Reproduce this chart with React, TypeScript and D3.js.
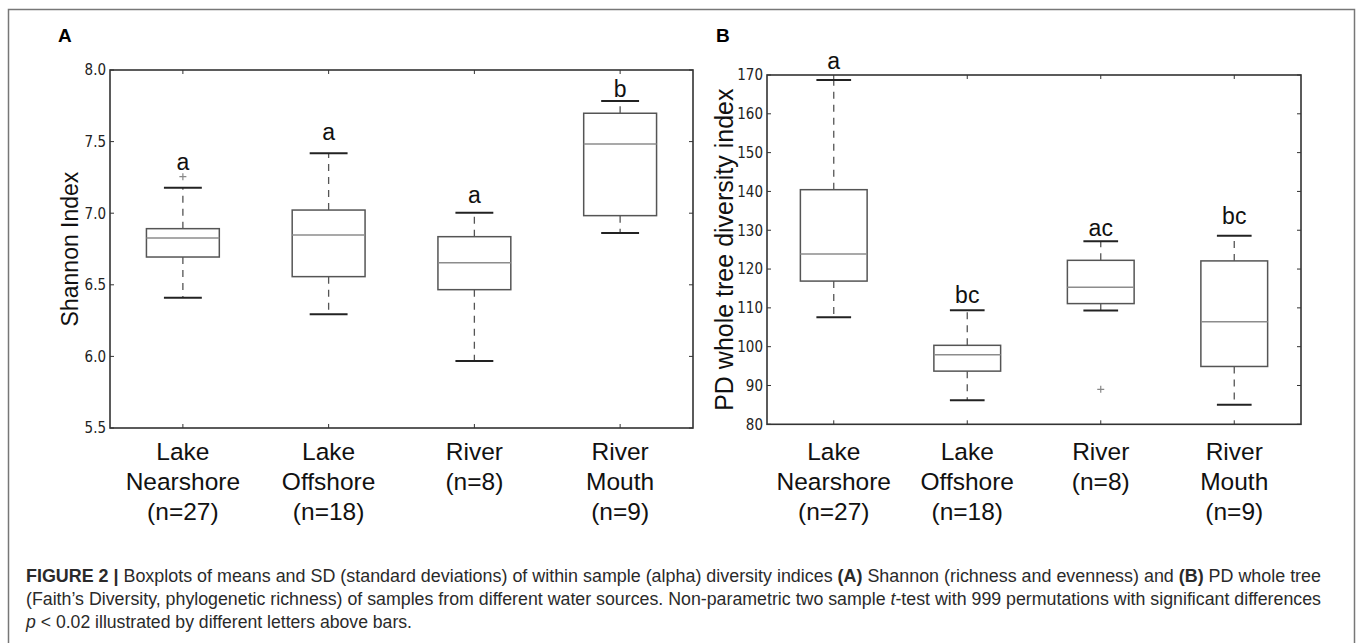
import { useEffect, useRef } from "react";
import * as d3 from "d3";

// sampling sites, shared by both panels
const siteNames = [["Lake", "Nearshore"], ["Lake", "Offshore"], ["River"], ["River", "Mouth"]];
const sampleSizes = [27, 18, 8, 9];

// panel A: Shannon index
const shannonLow = [6.41, 6.294, 5.968, 6.862];
const shannonQ1 = [6.694, 6.557, 6.466, 6.983];
const shannonMedian = [6.827, 6.848, 6.654, 7.483];
const shannonQ3 = [6.892, 7.022, 6.836, 7.698];
const shannonHigh = [7.178, 7.418, 7.003, 7.784];
const shannonFliers = [[7.255], [], [], []];
const shannonLetters = ["a", "a", "a", "b"];
const shannonLetterAt = [7.3, 7.51, 7.07, 7.81];
const shannonTicks = [5.5, 6.0, 6.5, 7.0, 7.5, 8.0];

// panel B: PD whole tree
const pdLow = [107.6, 86.2, 109.3, 85.05];
const pdQ1 = [116.9, 93.7, 111.1, 94.9];
const pdMedian = [123.9, 97.9, 115.3, 106.4];
const pdQ3 = [140.45, 100.35, 122.25, 122.1];
const pdHigh = [168.7, 109.4, 127.15, 128.6];
const pdFliers = [[], [], [89.0], []];
const pdLetters = ["a", "bc", "ac", "bc"];
const pdLetterAt = [171.5, 111.2, 128.5, 131.6];
const pdTicks = [80, 90, 100, 110, 120, 130, 140, 150, 160, 170];

const SANS = "'Liberation Sans', Arial, Helvetica, sans-serif";
const NARROW = "'Liberation Sans Narrow', 'DejaVu Sans Condensed', 'Arial Narrow', sans-serif";

const drawPanel = (svg, p) => {
    const x = d3.scaleBand().domain(siteNames.map((d, i) => i)).range([p.x0, p.x1]);
    const y = d3.scaleLinear().domain([p.ticks[0], p.ticks[p.ticks.length - 1]]).range([p.y1, p.y0]);
    const bw = x.bandwidth();
    const cx = i => x(i) + bw / 2;
    const g = svg.append("g");

    // panel letter
    g.append("text").attr("x", p.letterX).attr("y", 42)
        .attr("font-family", SANS).attr("font-weight", "bold").attr("font-size", 19)
        .text(p.letter);

    // ticks, inward on all four sides
    const tk = 4;
    p.ticks.forEach(t => {
        g.append("line").attr("x1", p.x0).attr("x2", p.x0 + tk).attr("y1", y(t)).attr("y2", y(t)).attr("stroke", "#333");
        g.append("line").attr("x1", p.x1).attr("x2", p.x1 - tk).attr("y1", y(t)).attr("y2", y(t)).attr("stroke", "#333");
        g.append("text").attr("x", p.x0 - 4).attr("y", y(t)).attr("dy", "0.36em")
            .attr("text-anchor", "end").attr("font-family", NARROW).attr("font-size", 15).attr("fill", "#222")
            .text(p.format(t));
    });
    siteNames.forEach((d, i) => {
        g.append("line").attr("x1", cx(i)).attr("x2", cx(i)).attr("y1", p.y1).attr("y2", p.y1 - tk).attr("stroke", "#333");
        g.append("line").attr("x1", cx(i)).attr("x2", cx(i)).attr("y1", p.y0).attr("y2", p.y0 + tk).attr("stroke", "#333");
        const lines = [...d, `(n=${sampleSizes[i]})`];
        const t = g.append("text").attr("text-anchor", "middle").attr("font-family", SANS)
            .attr("font-size", 24.5).attr("fill", "#111");
        lines.forEach((s, j) => {
            t.append("tspan").attr("x", cx(i)).attr("y", 460 + j * 30).text(s);
        });
    });

    // y axis title
    g.append("text")
        .attr("transform", `translate(${p.titleX},${(p.y0 + p.y1) / 2}) rotate(-90)`)
        .attr("text-anchor", "middle").attr("font-family", SANS).attr("font-size", p.titleSize).attr("fill", "#111")
        .text(p.title);

    // boxes
    const boxW = bw * 0.5;
    const capW = bw * 0.26;
    siteNames.forEach((d, i) => {
        const c = cx(i);
        // whiskers
        [[p.q3[i], p.high[i]], [p.q1[i], p.low[i]]].forEach(([a, b]) => {
            g.append("line").attr("x1", c).attr("x2", c).attr("y1", y(a)).attr("y2", y(b))
                .attr("stroke", "#555").attr("stroke-width", 1.3).attr("stroke-dasharray", "7,6");
        });
        [p.high[i], p.low[i]].forEach(v => {
            g.append("line").attr("x1", c - capW / 2).attr("x2", c + capW / 2).attr("y1", y(v)).attr("y2", y(v))
                .attr("stroke", "#222").attr("stroke-width", 2);
        });
        g.append("rect").attr("x", c - boxW / 2).attr("y", y(p.q3[i]))
            .attr("width", boxW).attr("height", y(p.q1[i]) - y(p.q3[i]))
            .attr("fill", "none").attr("stroke", "#555").attr("stroke-width", 1.5);
        g.append("line").attr("x1", c - boxW / 2).attr("x2", c + boxW / 2)
            .attr("y1", y(p.median[i])).attr("y2", y(p.median[i]))
            .attr("stroke", "#8c8c8c").attr("stroke-width", 1.5);
        p.fliers[i].forEach(v => {
            g.append("path").attr("d", `M${c - 3.5},${y(v)}h7M${c},${y(v) - 3.5}v7`)
                .attr("stroke", "#888").attr("stroke-width", 1.2);
        });
        g.append("text").attr("x", c).attr("y", y(p.letterAt[i]))
            .attr("text-anchor", "middle").attr("font-family", SANS).attr("font-size", 23).attr("fill", "#111")
            .text(p.letters[i]);
    });

    // axes frame
    g.append("rect").attr("x", p.x0).attr("y", p.y0).attr("width", p.x1 - p.x0).attr("height", p.y1 - p.y0)
        .attr("fill", "none").attr("stroke", "#333").attr("stroke-width", 1.6);
};

const Caption = () => (
    <g fontFamily={SANS} fontSize={17.5} fill="#2a2a2a">
        <text x={26} y={582} textLength={1295} lengthAdjust="spacingAndGlyphs">
            <tspan fontWeight="bold">FIGURE 2</tspan>
            <tspan fontWeight="bold"> | </tspan>
            Boxplots of means and SD (standard deviations) of within sample (alpha) diversity indices{" "}
            <tspan fontWeight="bold">(A)</tspan> Shannon (richness and evenness) and{" "}
            <tspan fontWeight="bold">(B)</tspan> PD whole tree
        </text>
        <text x={26} y={605} textLength={1295} lengthAdjust="spacingAndGlyphs">
            (Faith’s Diversity, phylogenetic richness) of samples from different water sources. Non-parametric two sample{" "}
            <tspan fontStyle="italic">t</tspan>-test with 999 permutations with significant differences
        </text>
        <text x={26} y={628} textLength={386} lengthAdjust="spacingAndGlyphs">
            <tspan fontStyle="italic">p</tspan> {"<"} 0.02 illustrated by different letters above bars.
        </text>
    </g>
);

const App = () => {
    const ref = useRef(null);

    useEffect(() => {
        const svg = d3.select(ref.current).select("g.plots");
        svg.selectAll("*").remove();
        drawPanel(svg, {
            letter: "A", letterX: 58,
            x0: 110, x1: 693, y0: 70, y1: 428,
            ticks: shannonTicks, format: d3.format(".1f"),
            low: shannonLow, q1: shannonQ1, median: shannonMedian, q3: shannonQ3, high: shannonHigh,
            fliers: shannonFliers, letters: shannonLetters, letterAt: shannonLetterAt,
            title: "Shannon Index", titleX: 78, titleSize: 23
        });
        drawPanel(svg, {
            letter: "B", letterX: 716,
            x0: 767, x1: 1301, y0: 75, y1: 424.3,
            ticks: pdTicks, format: d3.format("d"),
            low: pdLow, q1: pdQ1, median: pdMedian, q3: pdQ3, high: pdHigh,
            fliers: pdFliers, letters: pdLetters, letterAt: pdLetterAt,
            title: "PD whole tree diversity index", titleX: 733, titleSize: 25
        });
    });

    return (
        <>
            <style>{"body{margin:0}"}</style>
            <svg ref={ref} width="1357" height="643" style={{ display: "block", background: "#fff" }}>
                <rect x={8.5} y={9.5} width={1346} height={700} fill="none" stroke="#777" strokeWidth={1.5} />
                <g className="plots" />
                <Caption />
            </svg>
        </>
    );
};

export default App;
